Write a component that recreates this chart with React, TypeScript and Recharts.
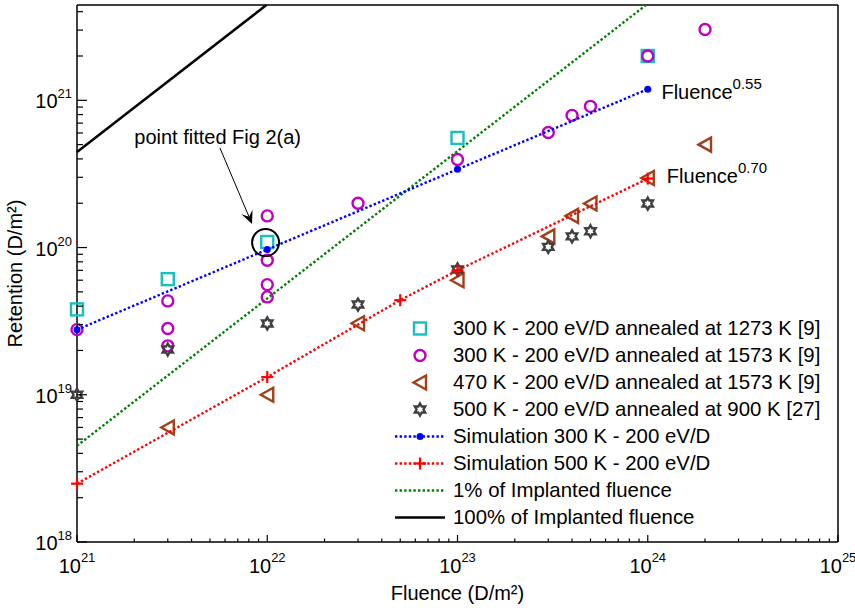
import React from "react";
import { ComposedChart, Scatter, XAxis, YAxis, ReferenceDot, ReferenceLine } from "recharts";

const FONT = '"Liberation Sans", Arial, Helvetica, sans-serif';

const xMajor = [1e21, 1e22, 1e23, 1e24, 1e25];
const yMajor = [1e18, 1e19, 1e20, 1e21];
const xDomain = [1e21, 1e25];
const yDomain = [1e18, 4.44e21];

// experimental data
const annealed1273 = [
  { x: 1e21, y: 3.8e19 }, { x: 3e21, y: 6.1e19 }, { x: 1e22, y: 1.09e20 },
  { x: 1e23, y: 5.55e20 }, { x: 1e24, y: 2.0e21 },
];
const annealed1573 = [
  { x: 1e21, y: 2.77e19 }, { x: 3e21, y: 4.34e19 }, { x: 3e21, y: 2.82e19 }, { x: 3e21, y: 2.15e19 },
  { x: 1e22, y: 1.64e20 }, { x: 1e22, y: 8.2e19 }, { x: 1e22, y: 5.6e19 }, { x: 1e22, y: 4.62e19 },
  { x: 3e22, y: 2.0e20 }, { x: 1e23, y: 3.96e20 }, { x: 3e23, y: 6.04e20 }, { x: 4e23, y: 7.9e20 },
  { x: 5e23, y: 9.1e20 }, { x: 1e24, y: 2.0e21 }, { x: 2e24, y: 3.03e21 },
];
const annealed470 = [
  { x: 3e21, y: 6.0e18 }, { x: 1e22, y: 1.0e19 }, { x: 3e22, y: 3.06e19 }, { x: 1e23, y: 6.0e19 },
  { x: 3e23, y: 1.19e20 }, { x: 4e23, y: 1.64e20 }, { x: 5e23, y: 1.99e20 }, { x: 1e24, y: 2.97e20 },
  { x: 2e24, y: 5.0e20 },
];
const annealed900 = [
  { x: 1e21, y: 1.0e19 }, { x: 3e21, y: 2.03e19 }, { x: 1e22, y: 3.05e19 }, { x: 3e22, y: 4.1e19 },
  { x: 1e23, y: 7.1e19 }, { x: 3e23, y: 1.01e20 }, { x: 4e23, y: 1.19e20 }, { x: 5e23, y: 1.29e20 },
  { x: 1e24, y: 1.99e20 },
];

// simulations and reference lines
const sim300 = [{ x: 1e21, y: 2.77e19 }, { x: 1e22, y: 9.7e19 }, { x: 1e23, y: 3.4e20 }, { x: 1e24, y: 1.19e21 }];
const sim500 = [
  { x: 1e21, y: 2.49e18 }, { x: 1e22, y: 1.32e19 }, { x: 5e22, y: 4.39e19 },
  { x: 1e23, y: 7.0e19 }, { x: 1e24, y: 2.94e20 },
];
const onePercent = [{ x: 1e21, y: 4.5e18 }, { x: 9.8e23, y: 4.44e21 }];
const hundredPercent = [{ x: 1e21, y: 4.46e20 }, { x: 9.9e21, y: 4.44e21 }];

// annotations
const fittedPoint = { x: 9.8e21, y: 1.08e20 };
const arrowFrom = { x: 5.64e21, y: 4.75e20 };
const arrowTo = { x: 8.32e21, y: 1.445e20 };
const notes = [
  { x: 2e21, y: 5.06e20, text: "point fitted Fig 2(a)", sup: "" },
  { x: 1.18e24, y: 1.02e21, text: "Fluence", sup: "0.55" },
  { x: 1.26e24, y: 2.73e20, text: "Fluence", sup: "0.70" },
];

const C = {
  cyan: "#19bfbf", magenta: "#bf00bf", brown: "#a0401a", gray: "#404040",
  blue: "#0000ff", red: "#ff0000", green: "#008000", black: "#000000",
};

const DOTS = "2.4 2.2";

const legendItems = [
  { label: "300 K - 200 eV/D annealed at 1273 K [9]", marker: "square" },
  { label: "300 K - 200 eV/D annealed at 1573 K [9]", marker: "circle" },
  { label: "470 K - 200 eV/D annealed at 1573 K [9]", marker: "tri" },
  { label: "500 K - 200 eV/D annealed at 900 K [27]", marker: "hex" },
  { label: "Simulation 300 K - 200 eV/D", marker: "dot", line: C.blue, dash: DOTS },
  { label: "Simulation 500 K - 200 eV/D", marker: "plus", line: C.red, dash: DOTS },
  { label: "1% of Implanted fluence", marker: "", line: C.green, dash: DOTS },
  { label: "100% of Implanted fluence", marker: "", line: C.black, dash: "" },
];

function withMinors(majors: number[], max: number) {
  const out: number[] = [];
  majors.forEach((m) => {
    for (let k = 1; k < 10; k++) if (m * k <= max * 1.0001) out.push(m * k);
  });
  return out;
}
const xTicks = withMinors(xMajor, xDomain[1]);
const yTicks = withMinors(yMajor, yDomain[1]);

const isMajor = (v: number) => {
  const e = Math.log10(v);
  return Math.abs(e - Math.round(e)) < 1e-6;
};
const expOf = (v: number) => Math.round(Math.log10(v));

function marker(kind: string, cx: number, cy: number) {
  switch (kind) {
    case "square":
      return <rect x={cx - 6} y={cy - 6} width={12} height={12} fill="none" stroke={C.cyan} strokeWidth={2.4} />;
    case "circle":
      return <circle cx={cx} cy={cy} r={5.5} fill="none" stroke={C.magenta} strokeWidth={2.4} />;
    case "tri":
      return (
        <polygon
          points={`${cx - 6.5},${cy} ${cx + 6},${cy - 7} ${cx + 6},${cy + 7}`}
          fill="none" stroke={C.brown} strokeWidth={2.4} strokeLinejoin="miter"
        />
      );
    case "hex": {
      const pts: string[] = [];
      for (let i = 0; i < 12; i++) {
        const a = ((-90 + 30 * i) * Math.PI) / 180;
        const r = i % 2 === 0 ? 6 : 3.46;
        pts.push(`${cx + r * Math.cos(a)},${cy + r * Math.sin(a)}`);
      }
      return <polygon points={pts.join(" ")} fill="none" stroke={C.gray} strokeWidth={2.4} />;
    }
    case "dot":
      return <circle cx={cx} cy={cy} r={3.5} fill={C.blue} />;
    case "plus":
      return (
        <g stroke={C.red} strokeWidth={2.2}>
          <line x1={cx - 6} x2={cx + 6} y1={cy} y2={cy} />
          <line x1={cx} x2={cx} y1={cy - 6} y2={cy + 6} />
        </g>
      );
    default:
      return <g />;
  }
}

const shapeOf = (kind: string) => (p: any) => marker(kind, p.cx, p.cy);

function BottomTick({ x, y, payload }: any) {
  const major = isMajor(payload.value);
  return (
    <g>
      <line x1={x} x2={x} y1={y} y2={y - (major ? 7 : 3.5)} stroke="#000" strokeWidth={1.2} />
      {major && (
        <text x={x} y={y + 31} textAnchor="middle" fontSize={20} fill="#000" fontFamily={FONT}>
          10<tspan dy={-11} fontSize={13}>{expOf(payload.value)}</tspan>
        </text>
      )}
    </g>
  );
}

function TopTick({ x, y, payload }: any) {
  const major = isMajor(payload.value);
  return <line x1={x} x2={x} y1={y} y2={y + (major ? 7 : 3.5)} stroke="#000" strokeWidth={1.2} />;
}

function LeftTick({ x, y, payload }: any) {
  const major = isMajor(payload.value);
  return (
    <g>
      <line x1={x} x2={x + (major ? 10 : 6)} y1={y} y2={y} stroke="#000" strokeWidth={1.2} />
      {major && (
        <text x={x - 5} y={y + 8} textAnchor="end" fontSize={20} fill="#000" fontFamily={FONT}>
          10<tspan dy={-10} fontSize={13}>{expOf(payload.value)}</tspan>
        </text>
      )}
    </g>
  );
}

function RightTick({ x, y, payload }: any) {
  const major = isMajor(payload.value);
  return <line x1={x} x2={x - (major ? 9 : 5)} y1={y} y2={y} stroke="#000" strokeWidth={1.2} />;
}

function XTitle({ viewBox }: any) {
  return (
    <text x={viewBox.x + viewBox.width / 2} y={viewBox.y + 58} textAnchor="middle" fontSize={20} fill="#000" fontFamily={FONT}>
      Fluence (D/m²)
    </text>
  );
}

function YTitle({ viewBox }: any) {
  const cx = viewBox.x + viewBox.width - 55;
  const cy = viewBox.y + viewBox.height / 2;
  return (
    <text x={cx} y={cy} transform={`rotate(-90 ${cx} ${cy})`} textAnchor="middle" fontSize={20} fill="#000" fontFamily={FONT}>
      Retention (D/m²)
    </text>
  );
}

function Arrow({ x1, y1, x2, y2 }: any) {
  const ang = Math.atan2(y2 - y1, x2 - x1);
  const len = 13;
  const w = 6;
  const bx = x2 - len * Math.cos(ang);
  const by = y2 - len * Math.sin(ang);
  const nx = -Math.sin(ang);
  const ny = Math.cos(ang);
  const notchX = x2 - len * 0.6 * Math.cos(ang);
  const notchY = y2 - len * 0.6 * Math.sin(ang);
  return (
    <g>
      <line x1={x1} y1={y1} x2={notchX} y2={notchY} stroke="#000" strokeWidth={1} />
      <polygon
        points={`${x2},${y2} ${bx + nx * w},${by + ny * w} ${notchX},${notchY} ${bx - nx * w},${by - ny * w}`}
        fill="#000"
      />
    </g>
  );
}

const noteShape = (n: { text: string; sup: string }) => (p: any) => (
  <text x={p.cx} y={p.cy} fontSize={20} fill="#000" fontFamily={FONT}>
    {n.text}
    {n.sup && <tspan dy={-10} fontSize={15}>{n.sup}</tspan>}
  </text>
);

function LegendBox() {
  return (
    <div style={{ position: "absolute", left: 393, top: 315, fontFamily: FONT, fontSize: 20.4, color: "#000" }}>
      {legendItems.map((it) => (
        <div key={it.label} style={{ display: "flex", alignItems: "center", height: 27, lineHeight: "27px", whiteSpace: "nowrap" }}>
          <svg width={60} height={27} style={{ display: "block" }}>
            {it.line && (
              <line x1={2} x2={52} y1={13.5} y2={13.5} stroke={it.line} strokeWidth={it.dash ? 2.4 : 2.5} strokeDasharray={it.dash || undefined} />
            )}
            {marker(it.marker, 27, 13.5)}
          </svg>
          <span>{it.label}</span>
        </div>
      ))}
    </div>
  );
}

const axisLine = { stroke: "#000", strokeWidth: 1.5 };

export default function App() {
  return (
    <div style={{ position: "absolute", left: 0, top: 0, width: 855, height: 608, background: "#fff" }}>
      <ComposedChart width={855} height={608} margin={{ top: 4, right: 16, bottom: 65, left: 76 }} style={{ fontFamily: FONT }}>
        <XAxis
          dataKey="x" type="number" scale="log" domain={xDomain} ticks={xTicks} interval={0}
          height={1} tickLine={false} tickSize={0} tickMargin={0} axisLine={axisLine}
          tick={<BottomTick />} label={<XTitle />}
        />
        <XAxis
          xAxisId="top" orientation="top" type="number" scale="log" domain={xDomain} ticks={xTicks} interval={0}
          height={1} tickLine={false} tickSize={0} tickMargin={0} axisLine={axisLine} tick={<TopTick />}
        />
        <YAxis
          dataKey="y" type="number" scale="log" domain={yDomain} ticks={yTicks} interval={0}
          width={1} tickLine={false} tickSize={0} tickMargin={0} axisLine={axisLine}
          tick={<LeftTick />} label={<YTitle />}
        />
        <YAxis
          yAxisId="right" orientation="right" type="number" scale="log" domain={yDomain} ticks={yTicks} interval={0}
          width={1} tickLine={false} tickSize={0} tickMargin={0} axisLine={axisLine} tick={<RightTick />}
        />

        <Scatter data={hundredPercent} line={{ stroke: C.black, strokeWidth: 2.5 }} shape={shapeOf("")} isAnimationActive={false} />
        <Scatter data={onePercent} line={{ stroke: C.green, strokeWidth: 2.4, strokeDasharray: DOTS }} shape={shapeOf("")} isAnimationActive={false} />

        <Scatter data={annealed1273} shape={shapeOf("square")} isAnimationActive={false} />
        <Scatter data={annealed1573} shape={shapeOf("circle")} isAnimationActive={false} />
        <Scatter data={annealed470} shape={shapeOf("tri")} isAnimationActive={false} />
        <Scatter data={annealed900} shape={shapeOf("hex")} isAnimationActive={false} />

        <Scatter data={sim300} line={{ stroke: C.blue, strokeWidth: 2.4, strokeDasharray: DOTS }} shape={shapeOf("dot")} isAnimationActive={false} />
        <Scatter data={sim500} line={{ stroke: C.red, strokeWidth: 2.4, strokeDasharray: DOTS }} shape={shapeOf("plus")} isAnimationActive={false} />

        <ReferenceDot x={fittedPoint.x} y={fittedPoint.y} r={13.5} fill="none" stroke="#000" strokeWidth={2} />
        <ReferenceLine segment={[arrowFrom, arrowTo]} shape={(p: any) => <Arrow {...p} />} />
        {notes.map((n) => (
          <ReferenceDot key={n.text + n.sup} x={n.x} y={n.y} r={0} shape={noteShape(n)} />
        ))}
      </ComposedChart>
      <LegendBox />
    </div>
  );
}
